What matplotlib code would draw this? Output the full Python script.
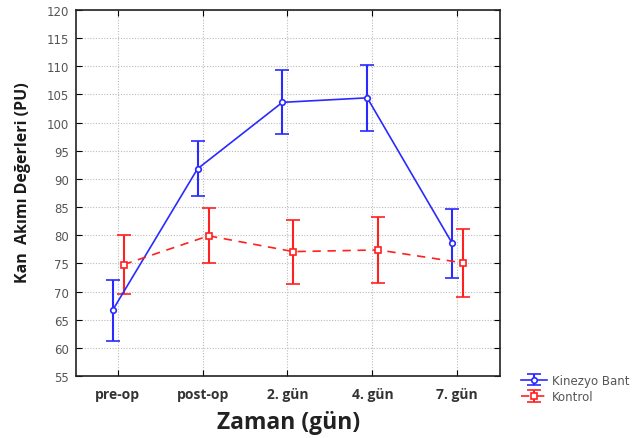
import matplotlib
matplotlib.use("Agg")
import matplotlib.pyplot as plt
import numpy as np

categories = ["pre-op", "post-op", "2. gün", "4. gün", "7. gün"]
kinezyo_mean = [66.7, 91.8, 103.6, 104.4, 78.6]
kinezyo_err = [5.4, 4.9, 5.7, 5.8, 6.1]
kontrol_mean = [74.8, 79.9, 77.1, 77.4, 75.1]
kontrol_err = [5.3, 4.9, 5.7, 5.8, 6.1]
yticks = list(range(55, 121, 5))

fig = plt.figure(figsize=(6.4, 4.39), dpi=100)
ax = fig.add_axes([0.119, 0.141, 0.663, 0.834])

x = np.arange(len(categories))
ax.errorbar(x - 0.06, kinezyo_mean, yerr=kinezyo_err, color="#2a2aff", lw=1.2,
            marker="o", ms=4, mfc="white", mec="#2a2aff", mew=1.2,
            capsize=5, capthick=1.3, elinewidth=1.5, label="Kinezyo Bant", zorder=3)
ax.errorbar(x + 0.07, kontrol_mean, yerr=kontrol_err, color="#ff2020", lw=1.2,
            ls=(0, (5, 4)), marker="s", ms=5, mfc="white", mec="#ff2020", mew=1.2,
            capsize=5, capthick=1.3, elinewidth=1.5, label="Kontrol", zorder=3)

ax.set_xlim(-0.49, 4.51)
ax.set_ylim(55, 120)
ax.set_yticks(yticks)
ax.set_xticks(x)
ax.set_xticklabels(categories, fontfamily="Open Sans", fontweight="bold",
                   fontsize=10, color="#333333")
ax.tick_params(axis="y", labelsize=8.5, labelcolor="#555555", direction="in",
               right=True, length=4, pad=5)
ax.tick_params(axis="x", direction="in", top=True, length=4, pad=8)
for lab in ax.get_yticklabels():
    lab.set_fontfamily("DejaVu Sans")

ax.grid(True, ls=(0, (1, 1.5)), color="#bbbbbb", lw=0.8)
for s in ax.spines.values():
    s.set_linewidth(1.2)
    s.set_color("#222222")

ax.set_ylabel("Kan  Akımı Değerleri (PU)", fontfamily="Open Sans",
              fontweight="bold", fontsize=11.5, color="#1a1a1a")
ax.yaxis.set_label_coords(-0.125, 0.53)
ax.yaxis.label.set_va("center")
ax.set_xlabel("Zaman (gün)", fontfamily="Open Sans", fontweight="bold",
              fontsize=16.5, color="#222222")
ax.xaxis.set_label_coords(0.5, -0.125)
ax.xaxis.label.set_va("center")

leg = fig.legend(loc="upper left", bbox_to_anchor=(0.805, 0.16), frameon=False,
                 fontsize=8.5, handlelength=2.2, handletextpad=0.4,
                 labelspacing=0.3, borderpad=0)
for t in leg.get_texts():
    t.set_color("#555555")
    t.set_fontfamily("DejaVu Sans")

fig.savefig("out.png", dpi=100)
